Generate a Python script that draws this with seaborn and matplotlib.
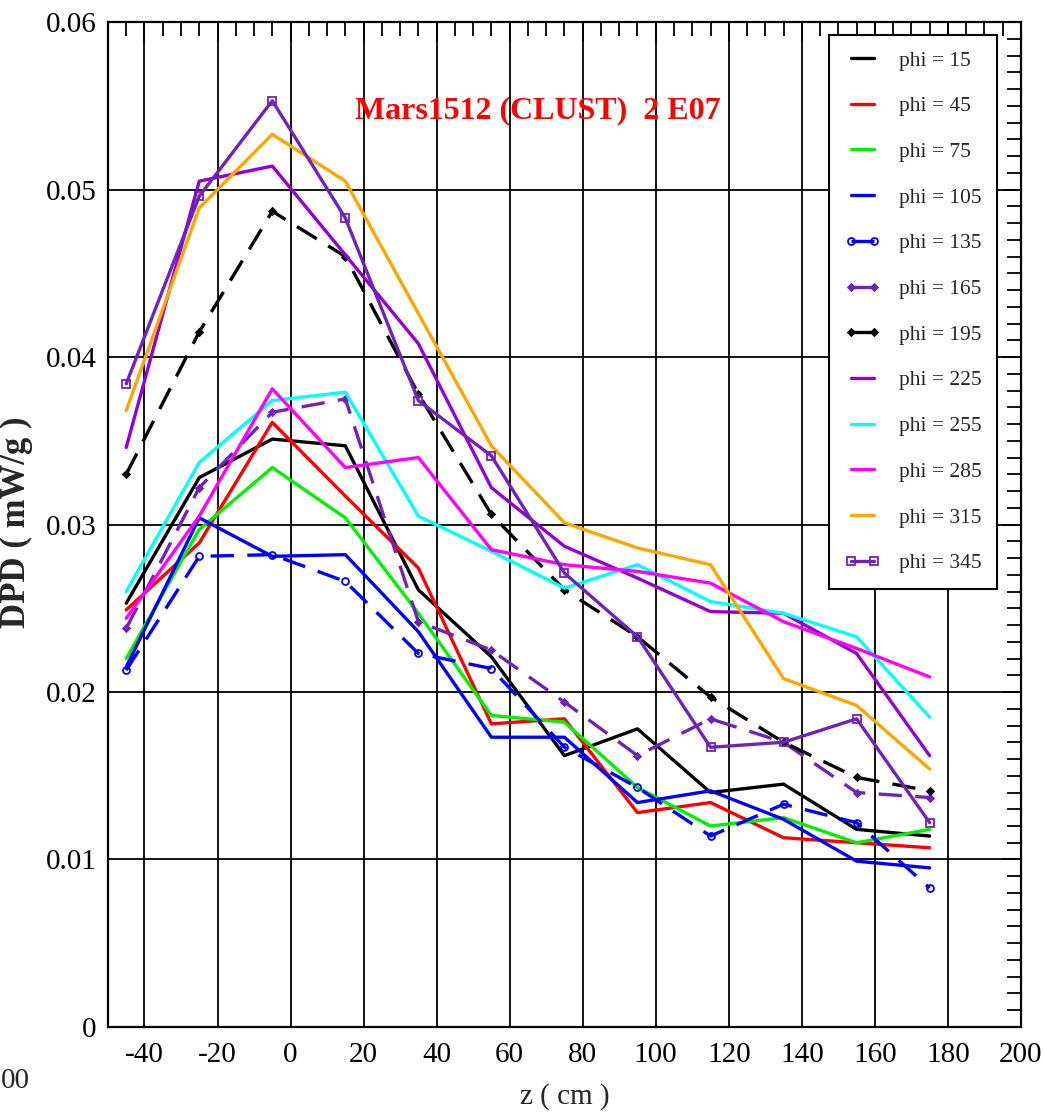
import matplotlib
matplotlib.use("Agg")
import matplotlib.pyplot as plt
from matplotlib.ticker import MultipleLocator, FuncFormatter
import seaborn as sns
import pandas as pd

z = [-45, -25, -5, 15, 35, 55, 75, 95, 115, 135, 155, 175]

phi_15 = [0.0253, 0.0328, 0.0351, 0.0347, 0.0261, 0.0221, 0.0162, 0.0178, 0.0140, 0.0145, 0.0118, 0.0114]
phi_45 = [0.0249, 0.0289, 0.0361, 0.0317, 0.0274, 0.0181, 0.0184, 0.0128, 0.0134, 0.0113, 0.0110, 0.0107]
phi_75 = [0.0220, 0.0297, 0.0334, 0.0304, 0.0247, 0.0186, 0.0182, 0.0143, 0.0120, 0.0125, 0.0110, 0.0118]
phi_105 = [0.0215, 0.0304, 0.0281, 0.0282, 0.0236, 0.0173, 0.0173, 0.0134, 0.0141, 0.0124, 0.0099, 0.0095]
phi_135 = [0.0213, 0.0281, 0.0282, 0.0266, 0.0223, 0.0214, 0.0167, 0.0143, 0.0114, 0.0133, 0.0122, 0.0083]
phi_165 = [0.0238, 0.0322, 0.0367, 0.0375, 0.0242, 0.0225, 0.0194, 0.0162, 0.0184, 0.0170, 0.0140, 0.0137]
phi_195 = [0.0330, 0.0415, 0.0487, 0.0460, 0.0378, 0.0306, 0.0261, 0.0233, 0.0197, 0.0170, 0.0149, 0.0141]
phi_225 = [0.0346, 0.0505, 0.0514, 0.0461, 0.0408, 0.0322, 0.0287, 0.0268, 0.0248, 0.0247, 0.0223, 0.0162]
phi_255 = [0.0260, 0.0337, 0.0374, 0.0379, 0.0305, 0.0284, 0.0262, 0.0276, 0.0254, 0.0247, 0.0233, 0.0185]
phi_285 = [0.0244, 0.0305, 0.0381, 0.0334, 0.0340, 0.0285, 0.0276, 0.0272, 0.0265, 0.0242, 0.0226, 0.0209]
phi_315 = [0.0368, 0.0489, 0.0533, 0.0505, 0.0426, 0.0347, 0.0301, 0.0286, 0.0276, 0.0208, 0.0192, 0.0154]
phi_345 = [0.0384, 0.0496, 0.0553, 0.0483, 0.0374, 0.0341, 0.0271, 0.0233, 0.0167, 0.0170, 0.0184, 0.0122]

labels = ["phi = 15", "phi = 45", "phi = 75", "phi = 105", "phi = 135", "phi = 165",
          "phi = 195", "phi = 225", "phi = 255", "phi = 285", "phi = 315", "phi = 345"]
series = [phi_15, phi_45, phi_75, phi_105, phi_135, phi_165,
          phi_195, phi_225, phi_255, phi_285, phi_315, phi_345]

title_text = "Mars1512 (CLUST)  2 E07"
x_ticks = [-40, -20, 0, 20, 40, 60, 80, 100, 120, 140, 160, 180, 200]
y_ticks = [0, 0.01, 0.02, 0.03, 0.04, 0.05, 0.06]

colors = ["#000000", "#FF0000", "#00F000", "#0000FF", "#0000FF", "#7221BC",
          "#000000", "#9400D3", "#00FFFF", "#FF00FF", "#FFA500", "#7221BC"]
dash = (0, (7, 4))
styles = ["-", "-", "-", "-", dash, dash, dash, "-", "-", "-", "-", "-"]
markers = [None, None, None, None, "o", "D", "D", None, None, None, None, "s"]
mfc = [None, None, None, None, "none", None, None, None, None, None, None, "none"]
msz = [0, 0, 0, 0, 5, 3.5, 3.5, 0, 0, 0, 0, 6]

sns.set_style("white")
plt.rcParams["font.family"] = ["Liberation Serif", "DejaVu Serif"]

fig = plt.figure(figsize=(10.44, 11.18), dpi=100)
ax = fig.add_axes([0.1034, 0.0814, 0.8745, 0.8989])

for lab, vals, c, ls, mk, fc, ms in zip(labels, series, colors, styles, markers, mfc, msz):
    df = pd.DataFrame({"z": z, "v": vals})
    kw = dict(color=c, linestyle=ls, linewidth=2.4, label=lab, zorder=3)
    if mk is not None:
        kw.update(marker=mk, markersize=ms, markeredgewidth=1.3, markeredgecolor=c)
        if fc is not None:
            kw.update(markerfacecolor=fc)
        else:
            kw.update(markerfacecolor=c)
    sns.lineplot(data=df, x="z", y="v", ax=ax, estimator=None, sort=False, **kw)

ax.set_xlim(-50, 200)
ax.set_ylim(0, 0.06)
ax.set_xticks(x_ticks)
ax.set_yticks(y_ticks)
ax.xaxis.set_minor_locator(MultipleLocator(5))
ax.yaxis.set_minor_locator(MultipleLocator(0.001))
ax.yaxis.set_major_formatter(FuncFormatter(lambda v, p: f"{v:g}"))
ax.xaxis.set_major_formatter(FuncFormatter(lambda v, p: f"{v:g}"))

ax.grid(True, which="major", color="black", linewidth=1.3)
ax.set_axisbelow(True)
ax.tick_params(which="both", direction="in", top=True, right=True, colors="black")
ax.tick_params(which="major", length=14, width=1.3, labelsize=21)
ax.tick_params(which="minor", length=10, width=1.3)
ax.tick_params(axis="x", which="major", pad=11)
ax.tick_params(axis="y", which="major", pad=8)
for s in ax.spines.values():
    s.set_color("black")
    s.set_linewidth(1.6)

ax.set_xlabel("z ( cm )", fontsize=21)
ax.xaxis.set_label_coords(0.5, -0.056)
ax.set_ylabel("DPD ( mW/g )", fontsize=25, fontweight="bold")
ax.yaxis.set_label_coords(-0.082, 0.502)

ax.text(0.471, 0.912, title_text, transform=ax.transAxes, ha="center", va="center",
        color="red", fontsize=23, fontweight="bold")

leg = ax.legend(loc="upper right", bbox_to_anchor=(0.974, 0.987), borderaxespad=0,
                fontsize=15.5, labelspacing=1.19, handlelength=1.67, handletextpad=0.88,
                borderpad=0.72, numpoints=2, frameon=True, fancybox=False)
leg.get_frame().set_edgecolor("black")
leg.get_frame().set_linewidth(1.5)
leg.get_frame().set_facecolor("white")
leg.get_frame().set_alpha(1)

fig.text(0.001, 0.033, "00", fontsize=21, ha="left", va="center")

fig.savefig("out.png", dpi=100)
